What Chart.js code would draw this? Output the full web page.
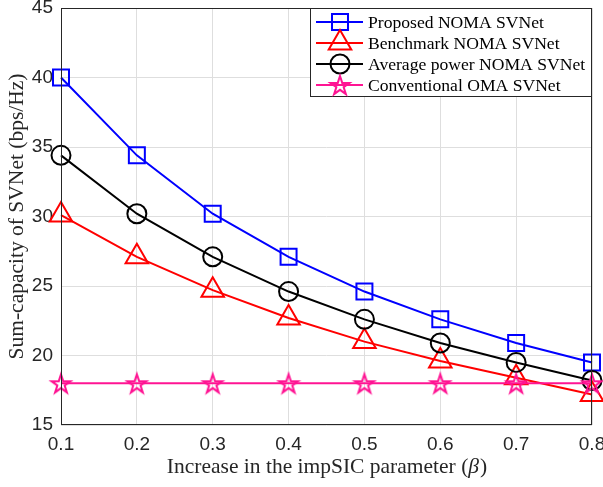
<!DOCTYPE html>
<html>
<head>
<meta charset="utf-8">
<script src="https://cdn.jsdelivr.net/npm/chart.js@4.4.1/dist/chart.umd.min.js"></script>
<style>
  html, body { margin: 0; padding: 0; background: #fff; }
  #wrap { width: 603px; height: 487px; }
</style>
</head>
<body>
<div id="wrap"><canvas id="capChart" width="603" height="487"></canvas></div>
<script>
// data
const betaLabels = ['0.1', '0.2', '0.3', '0.4', '0.5', '0.6', '0.7', '0.8'];
const proposedNoma = [40.0, 34.4, 30.2, 27.1, 24.6, 22.6, 20.9, 19.5];
const benchmarkNoma = [30.1, 27.1, 24.7, 22.7, 21.0, 19.6, 18.4, 17.2];
const averagePowerNoma = [34.4, 30.2, 27.1, 24.6, 22.6, 20.9, 19.5, 18.2];
const conventionalOma = [18.0, 18.0, 18.0, 18.0, 18.0, 18.0, 18.0, 18.0];
const yTicks = [15, 20, 25, 30, 35, 40, 45];

const TICK_FONT = { family: '"Liberation Sans", Arial, sans-serif', size: 19 };
const SERIF = '"Liberation Serif", "Times New Roman", serif';
const TITLE_PX = 21.5;

function starImage(color) {
  const s = 26;
  const c = document.createElement('canvas');
  c.width = s; c.height = s;
  const g = c.getContext('2d');
  const R = 10, r = R * 0.382;
  g.beginPath();
  for (let i = 0; i < 10; i++) {
    const a = -Math.PI / 2 + i * Math.PI / 5;
    const rr = i % 2 ? r : R;
    const px = s / 2 + rr * Math.cos(a), py = s / 2 + 1 + rr * Math.sin(a);
    if (i) g.lineTo(px, py); else g.moveTo(px, py);
  }
  g.closePath();
  g.strokeStyle = color;
  g.lineWidth = 2;
  g.stroke();
  return c;
}

function series(label, data, color, style, radius, order) {
  return {
    label, data, order,
    borderColor: color,
    backgroundColor: color,
    borderWidth: 2,
    pointStyle: style,
    pointRadius: radius,
    pointHoverRadius: radius,
    pointBorderColor: color,
    pointBackgroundColor: 'rgba(0,0,0,0)',
    pointBorderWidth: 2,
    tension: 0,
    clip: false
  };
}

const frameAndText = {
  id: 'frameAndText',
  afterDraw(chart) {
    const ctx = chart.ctx;
    const a = chart.chartArea;
    ctx.save();
    // axes box
    ctx.strokeStyle = '#262626';
    ctx.lineWidth = 1;
    ctx.strokeRect(Math.round(a.left) + 0.5, Math.round(a.top) + 0.5,
      Math.round(a.right - a.left) - 1, Math.round(a.bottom - a.top) - 1);

    // x title with italic beta
    ctx.fillStyle = '#262626';
    ctx.textBaseline = 'middle';
    const part1 = 'Increase in the impSIC parameter (';
    const normal = TITLE_PX + 'px ' + SERIF;
    const italic = 'italic ' + TITLE_PX + 'px ' + SERIF;
    ctx.font = normal;
    const w1 = ctx.measureText(part1).width;
    const w3 = ctx.measureText(')').width;
    ctx.font = italic;
    const w2 = ctx.measureText('\u03B2').width;
    const x0 = (a.left + a.right) / 2 - (w1 + w2 + w3) / 2;
    const ty = 467;
    ctx.textAlign = 'left';
    ctx.font = normal;
    ctx.fillText(part1, x0, ty);
    ctx.font = italic;
    ctx.fillText('\u03B2', x0 + w1, ty);
    ctx.font = normal;
    ctx.fillText(')', x0 + w1 + w2 + 1, ty);

    // y title
    ctx.translate(17, (a.top + a.bottom) / 2);
    ctx.rotate(-Math.PI / 2);
    ctx.textAlign = 'center';
    ctx.fillText('Sum-capacity of SVNet (bps/Hz)', 0, 0);
    ctx.restore();

    // legend
    ctx.save();
    const lx = 310, ly = Math.round(a.top), lw = Math.round(a.right) - 310, lh = 89;
    ctx.fillStyle = '#fff';
    ctx.fillRect(lx, ly, lw, lh);
    ctx.strokeStyle = '#262626';
    ctx.lineWidth = 1;
    ctx.strokeRect(lx + 0.5, ly + 0.5, lw - 1, lh - 1);
    chart.data.datasets.forEach((ds, row) => {
      const cy = 22 + row * 21;
      ctx.strokeStyle = ds.borderColor;
      ctx.lineWidth = 2;
      ctx.beginPath();
      ctx.moveTo(316, cy);
      ctx.lineTo(363, cy);
      ctx.stroke();
      ctx.fillStyle = 'rgba(0,0,0,0)';
      Chart.helpers.drawPoint(ctx, {
        pointStyle: ds.pointStyle, radius: ds.pointRadius, rotation: 0, borderWidth: 2
      }, 340, cy);
      ctx.fillStyle = '#000';
      ctx.font = '17.6px ' + SERIF;
      ctx.textAlign = 'left';
      ctx.textBaseline = 'middle';
      ctx.fillText(ds.label, 368, cy + 1);
    });
    ctx.restore();
  }
};

new Chart(document.getElementById('capChart').getContext('2d'), {
  type: 'line',
  data: {
    labels: betaLabels,
    datasets: [
      series('Proposed NOMA SVNet', proposedNoma, '#0000ff', 'rect', 11.3, 4),
      series('Benchmark NOMA SVNet', benchmarkNoma, '#ff0000', 'triangle', 13, 3),
      series('Average power NOMA SVNet', averagePowerNoma, '#000000', 'circle', 9.5, 2),
      series('Conventional OMA SVNet', conventionalOma, '#ff1493', starImage('#ff1493'), 10, 1)
    ]
  },
  options: {
    responsive: false,
    animation: false,
    devicePixelRatio: 1,
    layout: { autoPadding: false, padding: { left: 0, right: 11, top: 8, bottom: 0 } },
    plugins: { legend: { display: false }, tooltip: { enabled: false } },
    scales: {
      x: {
        type: 'category',
        offset: false,
        border: { display: false },
        grid: { color: '#dedede', lineWidth: 1, drawTicks: false },
        ticks: { font: TICK_FONT, color: '#262626', padding: 8, maxRotation: 0, autoSkip: false },
        afterFit(scale) {
          scale.height = 62;
          scale.paddingLeft = 0;
          scale.paddingRight = 0;
        }
      },
      y: {
        min: 15,
        max: 45,
        border: { display: false },
        grid: { color: '#dedede', lineWidth: 1, drawTicks: false },
        ticks: { font: TICK_FONT, color: '#262626', padding: 8 },
        afterBuildTicks(scale) {
          scale.ticks = yTicks.map((v) => ({ value: v }));
        },
        afterFit(scale) {
          scale.width = 61;
          scale.paddingTop = 0;
          scale.paddingBottom = 0;
        }
      }
    }
  },
  plugins: [frameAndText]
});
</script>
</body>
</html>
